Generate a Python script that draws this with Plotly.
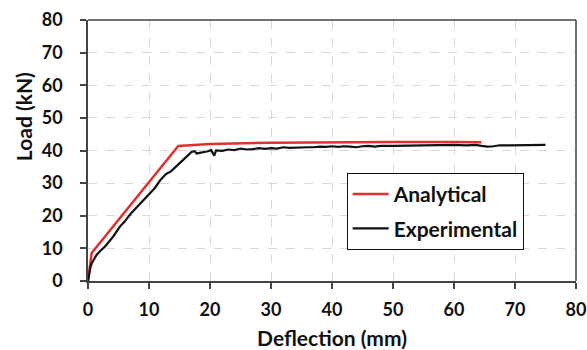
import plotly.graph_objects as go

# Analytical curve
ana_x = [0, 0.6, 14.8, 20, 30, 40, 50, 60, 64.5]
ana_y = [0, 8.6, 41.4, 42.0, 42.4, 42.6, 42.6, 42.6, 42.5]

# Experimental curve
exp_x = [0, 0.2, 0.4, 0.6, 1.0, 1.4, 2.0, 2.8, 3.5, 4.2, 5.2, 6.0, 7.0, 8.0, 9.0, 10.2,
         11.0, 11.8, 12.8, 13.6, 14.5, 15.3, 16.0, 16.6, 17.0, 17.5, 17.8, 18.5, 19.5,
         20.2, 20.7, 21.0, 22.0, 23.0, 24.0, 25.0, 26.0, 27.0, 28.0, 29.0, 30.0, 31.0,
         32.0, 33.0, 34.0, 35.0, 36.0, 37.0, 38.0, 39.0, 40.0, 41.0, 42.0, 43.0, 44.0,
         45.0, 46.0, 47.0, 48.0, 50.0, 52.0, 54.0, 56.0, 58.0, 60.0, 62.0, 63.5, 64.5,
         65.5, 66.5, 67.5, 69.0, 71.0, 73.0, 75.0]
exp_y = [0, 2.5, 4.2, 5.4, 6.8, 8.0, 9.2, 10.6, 12.2, 13.8, 16.6, 18.2, 20.6, 22.6, 24.6, 26.9,
         28.6, 30.8, 32.8, 33.6, 35.1, 36.6, 37.9, 38.9, 39.6, 39.8, 39.1, 39.3, 39.7,
         40.1, 38.4, 40.0, 39.9, 40.3, 40.1, 40.6, 40.3, 40.4, 40.7, 40.5, 40.7, 40.6,
         41.0, 40.8, 40.9, 41.1, 41.0, 41.0, 41.2, 41.1, 41.3, 41.1, 41.3, 41.2, 41.0,
         41.3, 41.4, 41.2, 41.4, 41.4, 41.5, 41.4, 41.5, 41.6, 41.7, 41.6, 41.7, 41.4,
         41.2, 41.3, 41.6, 41.6, 41.7, 41.7, 41.7]

x_ticks = [0, 10, 20, 30, 40, 50, 60, 70, 80]
y_ticks = [0, 10, 20, 30, 40, 50, 60, 70, 80]

FONT = "Lato"

fig = go.Figure()
fig.add_trace(go.Scatter(x=ana_x, y=ana_y, mode="lines", name="Analytical",
                         line=dict(color="#e0302e", width=2.5), legendgroup="a"))
fig.add_trace(go.Scatter(x=exp_x, y=exp_y, mode="lines", name="Experimental",
                         line=dict(color="#111111", width=2.2), legendgroup="b"))

axis_common = dict(
    showline=True, linecolor="#444444", linewidth=1.5, mirror=False,
    showgrid=True, gridcolor="#d9d9d9", griddash="dash", gridwidth=1,
    ticks="outside", ticklen=6, tickcolor="#444444", tickwidth=1.5,
    zeroline=False, automargin=False,
    tickfont=dict(family=FONT, size=18, color="#111111", weight="bold"),
)

fig.update_layout(
    width=587, height=350,
    margin=dict(l=88, r=11, t=20, b=69),
    paper_bgcolor="white", plot_bgcolor="white",
    font=dict(family=FONT, color="#111111"),
    xaxis=dict(range=[0, 80], tickvals=x_ticks, ticklabelstandoff=6,
               title=dict(text="Deflection (mm)", standoff=12,
                          font=dict(family=FONT, size=21, weight="bold")),
               **axis_common),
    yaxis=dict(range=[0, 80], tickvals=y_ticks, ticklabelstandoff=14,
               **axis_common),
    legend=dict(x=0.53, y=0.414, xanchor="left", yanchor="top",
                bgcolor="white", bordercolor="#111111", borderwidth=1,
                font=dict(family=FONT, size=21, weight="bold", color="#111111"),
                tracegroupgap=4, itemwidth=36),
    showlegend=True,
)

# y-axis title (positioned above centre, as in the reference)
fig.add_annotation(text="Load (kN)", textangle=-90, showarrow=False,
                   xref="paper", yref="paper", x=-0.133, y=0.628,
                   xanchor="center", yanchor="middle",
                   font=dict(family=FONT, size=21, weight="bold", color="#111111"))

# top and right frame lines
fig.add_shape(type="line", xref="paper", yref="paper", x0=0, x1=1, y0=1, y1=1,
              line=dict(color="#444444", width=1.5))
fig.add_shape(type="line", xref="paper", yref="paper", x0=1, x1=1, y0=0, y1=1,
              line=dict(color="#444444", width=1.5))

fig.write_html("out.html")
